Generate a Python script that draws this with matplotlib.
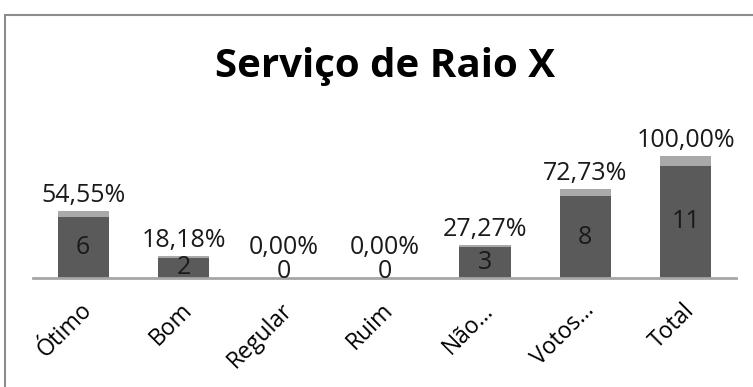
import matplotlib
matplotlib.use("Agg")
import matplotlib.pyplot as plt
import matplotlib.transforms as mtransforms
from matplotlib.patches import Rectangle

plt.rcParams['font.family'] = ['Open Sans', 'DejaVu Sans']

# Votos por categoria e a fração sobre o total
categorias = ['Ótimo', 'Bom', 'Regular', 'Ruim', 'Não...', 'Votos...', 'Total']
votos = [6, 2, 0, 0, 3, 8, 11]
percentual = [0.5455, 0.1818, 0.0, 0.0, 0.2727, 0.7273, 1.0]
rotulos_pct = ['54,55%', '18,18%', '0,00%', '0,00%', '27,27%', '72,73%', '100,00%']

W, H = 753, 387
fig = plt.figure(figsize=(W / 100, H / 100), dpi=100)

# moldura do gráfico (sai pela direita e por baixo)
fig.patches.append(Rectangle((5 / W, -0.1), 1.2, (H - 15) / H + 0.1,
                             transform=fig.transFigure, fill=False,
                             edgecolor='#8c8c8c', linewidth=1.5))

ax_left, ax_right = 33 / W, 736 / W
ax_bottom = 1 - 278 / H
ax_h = 12 * 10.2 / H
ax = fig.add_axes([ax_left, ax_bottom, ax_right - ax_left, ax_h])

x = list(range(len(categorias)))
ax.bar(x, votos, width=0.51, color='#5a5a5a', zorder=2)
ax.bar(x, percentual, bottom=votos, width=0.51, color='#a9a9a9', zorder=2)

ax.set_xlim(-0.5, len(categorias) - 0.5)
ax.set_ylim(0, 12)
for s in ['top', 'right', 'left']:
    ax.spines[s].set_visible(False)
ax.spines['bottom'].set_color('#a6a6a6')
ax.spines['bottom'].set_linewidth(2)
ax.set_yticks([])
ax.tick_params(axis='x', length=0, pad=0)
ax.set_xticks(x)
ax.set_xticklabels(categorias, rotation=45, ha='right', va='center',
                   rotation_mode='anchor', fontsize=16.5)
offset = mtransforms.ScaledTranslation(5 / 100, -29 / 100, fig.dpi_scale_trans)
for lbl in ax.get_xticklabels():
    lbl.set_transform(lbl.get_transform() + offset)

# rótulos de dados
fs = 18
for xi, v, p, txt in zip(x, votos, percentual, rotulos_pct):
    if v > 0:
        ax.text(xi, v / 2, str(v), ha='center', va='center', fontsize=fs,
                color='#1a1a1a', zorder=3)
        ax.annotate(txt, (xi, v + p), xytext=(0, 2), textcoords='offset points',
                    ha='center', va='bottom', fontsize=fs, color='#1a1a1a',
                    annotation_clip=False)
    else:
        ax.annotate(str(v), (xi, 0), xytext=(0, -4), textcoords='offset points',
                    ha='center', va='bottom', fontsize=fs, color='#1a1a1a',
                    annotation_clip=False)
        ax.annotate(txt, (xi, 0), xytext=(0, 13), textcoords='offset points',
                    ha='center', va='bottom', fontsize=fs, color='#1a1a1a',
                    annotation_clip=False)

fig.text(385 / W, 1 - 66 / H, 'Serviço de Raio X', ha='center', va='center',
         fontsize=29, fontweight='bold', color='#000000')

fig.savefig('out.png', dpi=100, facecolor='white')
